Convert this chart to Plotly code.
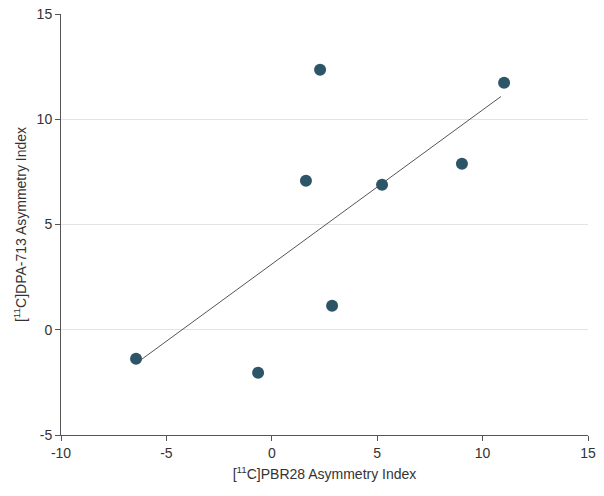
import plotly.graph_objects as go

# PBR28 vs DPA-713 asymmetry index
pbr28_ai = [-6.44, -0.65, 1.62, 2.29, 2.86, 5.23, 9.02, 11.02]
dpa713_ai = [-1.38, -2.04, 7.08, 12.35, 1.14, 6.89, 7.89, 11.73]

# fitted line endpoints
fit_x = [-6.44, 10.87]
fit_y = [-1.6, 11.08]

# tick labels use a plain hyphen like the original
x_ticks = [-10, -5, 0, 5, 10, 15]
x_ticklabels = ["-10", "-5", "0", "5", "10", "15"]
y_ticks = [-5, 0, 5, 10, 15]
y_ticklabels = ["-5", "0", "5", "10", "15"]

FONT = "Liberation Sans, Arial, sans-serif"
AXIS_COL = "#555555"

fig = go.Figure()
fig.add_trace(go.Scatter(x=fit_x, y=fit_y, mode="lines",
                         line=dict(color="#555555", width=1), hoverinfo="skip"))
fig.add_trace(go.Scatter(x=pbr28_ai, y=dpa713_ai, mode="markers",
                         marker=dict(color="#2c5567", size=12)))

# page body has an 8px margin, so the figure is a bit smaller than the window
fig.update_layout(
    width=596, height=488,
    margin=dict(l=53, r=16, t=6, b=61),
    plot_bgcolor="white", paper_bgcolor="white",
    showlegend=False,
    font=dict(family=FONT, size=14, color="#333333"),
)
fig.update_xaxes(range=[-10, 15], tickvals=x_ticks, ticktext=x_ticklabels,
                 showgrid=False, zeroline=False, automargin=False,
                 ticklabeloverflow="allow",
                 showline=True, linecolor=AXIS_COL, linewidth=1,
                 ticks="outside", ticklen=5, tickcolor=AXIS_COL,
                 title=dict(text="[<sup>11</sup>C]PBR28 Asymmetry Index",
                            font=dict(size=14), standoff=9))
fig.update_yaxes(range=[-5, 15], tickvals=y_ticks, ticktext=y_ticklabels,
                 showgrid=True, gridcolor="#e3e3e3", gridwidth=1, zeroline=False,
                 automargin=False, ticklabeloverflow="allow",
                 showline=True, linecolor=AXIS_COL, linewidth=1,
                 ticks="outside", ticklen=5, tickcolor=AXIS_COL,
                 title=dict(text="[<sup>11</sup>C]DPA-713 Asymmetry Index",
                            font=dict(size=14), standoff=6))

fig.write_html("out.html")
